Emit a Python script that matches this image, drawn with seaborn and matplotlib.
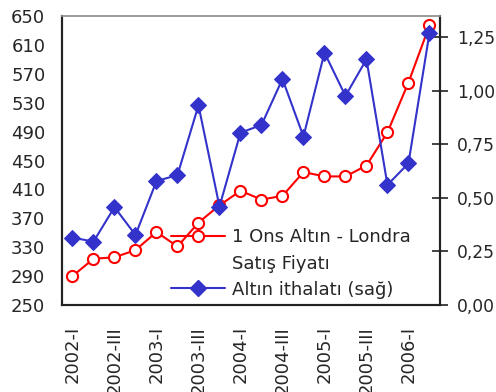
import matplotlib
matplotlib.use("Agg")
import matplotlib.pyplot as plt
from matplotlib.lines import Line2D
import seaborn as sns
import pandas as pd

# Quarterly data, 2002-I .. 2006-II
quarters = ["2002-I", "2002-II", "2002-III", "2002-IV",
            "2003-I", "2003-II", "2003-III", "2003-IV",
            "2004-I", "2004-II", "2004-III", "2004-IV",
            "2005-I", "2005-II", "2005-III", "2005-IV",
            "2006-I", "2006-II"]
# London gold price, USD per ounce (left axis)
gold_price = [290, 314, 316, 326, 351, 331, 364, 388,
              408, 396, 401, 434, 428, 428, 443, 489, 558, 637]
# Gold imports (right axis)
gold_imports = [0.315, 0.296, 0.457, 0.327, 0.579, 0.607, 0.933, 0.460,
                0.805, 0.841, 1.056, 0.787, 1.179, 0.977, 1.148, 0.561, 0.662, 1.270]

label_price_1 = "1 Ons Altın - Londra"
label_price_2 = "Satış Fiyatı"
label_imports = "Altın ithalatı (sağ)"

left_ticks = [250, 290, 330, 370, 410, 450, 490, 530, 570, 610, 650]
right_ticks = [0.0, 0.25, 0.5, 0.75, 1.0, 1.25]

sns.set_style("white")
plt.rcParams["font.family"] = ["DejaVu Sans"]

df = pd.DataFrame({"x": range(len(quarters)), "price": gold_price,
                   "imports": gold_imports})

RED = "#ff0000"
BLUE = "#3333cc"
FS = 13

fig = plt.figure(figsize=(4.96, 3.92), dpi=100)
ax = fig.add_axes([0.125, 0.222, 0.762, 0.737])

sns.lineplot(data=df, x="x", y="price", ax=ax, color=RED, lw=1.5,
             marker="o", markersize=8, markerfacecolor="white",
             markeredgecolor=RED, markeredgewidth=1.5)
ax.set_ylim(250, 650)
ax.set_yticks(left_ticks)
ax.set_yticklabels([str(v) for v in left_ticks], fontsize=FS)
ax.tick_params(axis="y", length=0, pad=12)

ax.set_xlim(-0.5, len(quarters) - 0.5)
ax.set_xticks(range(0, len(quarters), 2))
ax.set_xticklabels(quarters[::2], rotation=90, fontsize=FS, va="top")
ax.set_xticks([i - 0.5 for i in range(len(quarters) + 1)], minor=True)
ax.tick_params(axis="x", which="major", length=0, pad=15)
ax.tick_params(axis="x", which="minor", length=5, width=1, color="#222222",
               direction="out")
ax.set_xlabel("")
ax.set_ylabel("")

ax2 = ax.twinx()
sns.lineplot(data=df, x="x", y="imports", ax=ax2, color=BLUE, lw=1.5,
             marker="D", markersize=8.5, markerfacecolor=BLUE,
             markeredgecolor=BLUE)
ax2.set_ylim(0, 1.35)
ax2.set_yticks(right_ticks)
ax2.set_yticklabels([f"{v:.2f}".replace(".", ",") for v in right_ticks],
                    fontsize=12.3)
ax2.tick_params(axis="y", direction="inout", length=12, width=1.2,
                color="#222222", pad=6.5)
ax2.set_ylabel("")

for a in (ax, ax2):
    a.spines["top"].set_color("#9a9a9a")
    a.spines["top"].set_linewidth(1.2)
    for s in ("left", "right", "bottom"):
        a.spines[s].set_color("#222222")
        a.spines[s].set_linewidth(1.5)

handles = [
    Line2D([], [], color=RED, lw=1.5, marker="o", markersize=8,
           markerfacecolor="white", markeredgecolor=RED, markeredgewidth=1.5),
    Line2D([], [], linestyle="none", marker=None),
    Line2D([], [], color=BLUE, lw=1.5, marker="D", markersize=8.5,
           markerfacecolor=BLUE, markeredgecolor=BLUE),
]
ax2.legend(handles, [label_price_1, label_price_2, label_imports],
           loc="upper left", bbox_to_anchor=(0.288, 0.265), frameon=False,
           fontsize=FS, handlelength=3.0, handletextpad=0.4,
           borderpad=0, borderaxespad=0, labelspacing=0.45)

fig.savefig("out.png", dpi=100)
